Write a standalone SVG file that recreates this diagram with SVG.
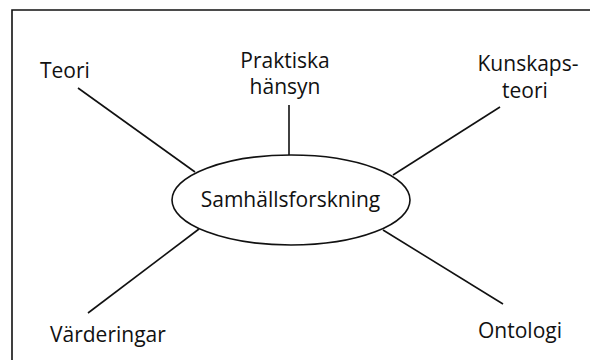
<svg xmlns="http://www.w3.org/2000/svg" width="590" height="360" viewBox="0 0 590 360">
<style>
.t{font-family:"Open Sans","Liberation Sans",sans-serif;font-size:21px;fill:#111;}
.c{stroke:#111;stroke-width:1.6;fill:none;}
</style>
<rect x="0" y="0" width="590" height="360" fill="#fff"/>
<path class="c" d="M12,360 L12,10 L590,10" stroke-width="2"/>
<g id="connectors">
<line class="c" x1="78" y1="88" x2="195" y2="172"/>
<line class="c" x1="289" y1="105" x2="289" y2="155"/>
<line class="c" x1="500" y1="107" x2="393" y2="175"/>
<line class="c" x1="88" y1="313" x2="199" y2="229"/>
<line class="c" x1="383" y1="230" x2="503" y2="304"/>
</g>
<g id="center">
<ellipse class="c" cx="291" cy="200" rx="119" ry="45"/>
<text class="t" x="290.5" y="207" text-anchor="middle" font-size="24">Samhällsforskning</text>
</g>
<g id="teori"><text class="t" x="40" y="78">Teori</text></g>
<g id="praktiska"><text class="t" text-anchor="middle"><tspan x="285" y="68">Praktiska</tspan><tspan x="285" y="94">hänsyn</tspan></text></g>
<g id="kunskapsteori"><text class="t" text-anchor="middle"><tspan x="528" y="71">Kunskaps-</tspan><tspan x="525" y="98">teori</tspan></text></g>
<g id="varderingar"><text class="t" x="50" y="342">Värderingar</text></g>
<g id="ontologi"><text class="t" x="478" y="338">Ontologi</text></g>
</svg>
